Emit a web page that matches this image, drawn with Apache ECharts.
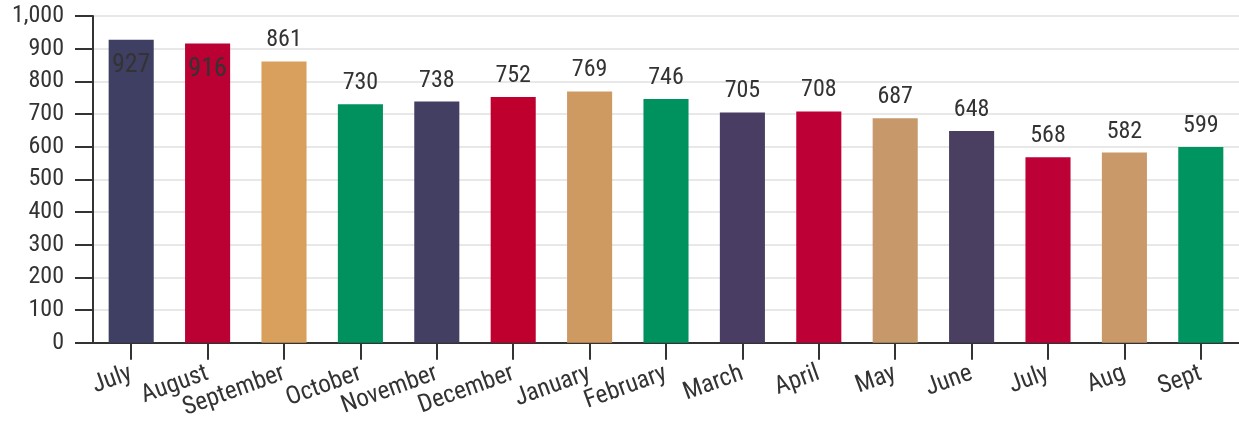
<!DOCTYPE html>
<html>
<head>
<meta charset="utf-8">
<script src="https://cdn.jsdelivr.net/npm/echarts@6/dist/echarts.min.js"></script>
<style>
html, body { margin: 0; padding: 0; background: #fff; }
#chart { width: 1239px; height: 422px; }
</style>
</head>
<body>
<div id="chart"></div>
<script>
var months = [ 'July', 'August', 'September', 'October', 'November', 'December',
		'January', 'February', 'March', 'April', 'May', 'June', 'July', 'Aug', 'Sept' ];
var counts = [ 927, 916, 861, 730, 738, 752, 769, 746, 705, 708, 687, 648, 568, 582, 599 ];
var barColors = [ '#3f3f64', '#bb0033', '#d99f5c', '#00915e', '#433f62', '#bf002f',
		'#cf9a62', '#00925e', '#4a3d63', '#bd0035', '#c7996a', '#4a3e61', '#bd0035',
		'#c9996a', '#009460' ];
// first two values sit inside the bar
var insideLabels = [ 0, 1 ];

var font = "'Roboto Condensed', 'DejaVu Sans Condensed', 'Roboto', sans-serif";

var barData = counts.map(function(v, i) {
	var item = {
		value : v,
		itemStyle : {
			color : barColors[i]
		}
	};
	if (insideLabels.indexOf(i) >= 0) {
		item.label = {
			position : 'insideTop',
			distance : 13,
			fontSize : 26
		};
	}
	return item;
});

var option = {
	animation : false,
	grid : {
		left : 93,
		right : -9,
		top : 16,
		bottom : 79
	},
	xAxis : {
		type : 'category',
		data : months,
		axisLine : {
			lineStyle : {
				color : '#333',
				width : 2
			}
		},
		axisTick : {
			show : true,
			alignWithLabel : true,
			length : 17,
			lineStyle : {
				color : '#333',
				width : 2
			}
		},
		axisLabel : {
			rotate : 20,
			margin : 30,
			interval : 0,
			color : '#333',
			fontSize : 25,
			fontFamily : font
		}
	},
	yAxis : {
		type : 'value',
		min : 0,
		max : 1000,
		interval : 100,
		axisLine : {
			show : true,
			lineStyle : {
				color : '#333',
				width : 2
			}
		},
		axisTick : {
			show : true,
			length : 18,
			lineStyle : {
				color : '#333',
				width : 2
			}
		},
		axisLabel : {
			margin : 29,
			color : '#333',
			fontSize : 24,
			fontFamily : font,
			formatter : function(v) {
				return v.toLocaleString('en-US');
			}
		},
		splitLine : {
			lineStyle : {
				color : '#e8e8e8',
				width : 2
			}
		}
	},
	series : [ {
		type : 'bar',
		barWidth : '59%',
		data : barData,
		label : {
			show : true,
			position : 'top',
			distance : 9,
			color : '#333',
			fontSize : 24,
			fontFamily : font
		}
	} ]
};

var chart = echarts.init(document.getElementById('chart'));
chart.setOption(option);
</script>
</body>
</html>
